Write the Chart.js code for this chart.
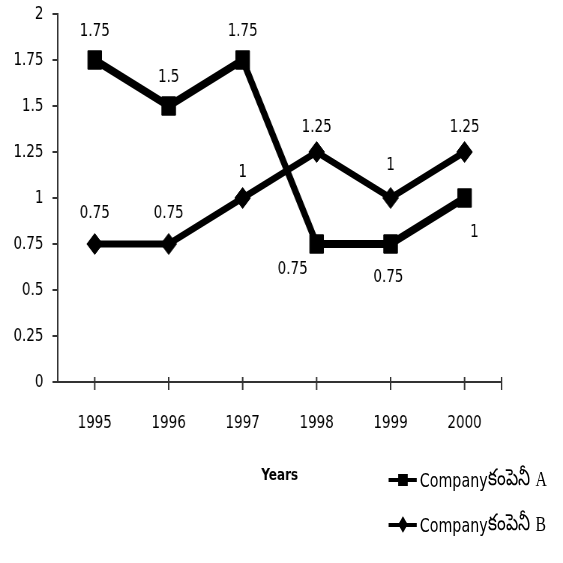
<!DOCTYPE html>
<html>
<head>
<meta charset="utf-8">
<script src="https://cdn.jsdelivr.net/npm/chart.js@4.4.1/dist/chart.umd.min.js"></script>
<style>
  html, body { margin: 0; padding: 0; background: #fff; overflow: hidden; }
  /* the reference is squeezed sideways, so draw wide and squeeze */
  #wrap { position: relative; width: 751px; height: 563px; transform: scaleX(0.7497); transform-origin: 0 0; }
  #legend { position: absolute; left: 518px; top: 457px; color: #000;
            font-family: 'DejaVu Sans', sans-serif; }
  .row { height: 45px; display: flex; align-items: center; white-space: nowrap; }
  .key { position: relative; width: 38px; height: 16px; flex: none; margin-right: 4px; }
  .key .ln { position: absolute; left: 0; right: 0; top: 6px; height: 4px; background: #000; }
  .key .sq { position: absolute; left: 13px; top: 2px; width: 13px; height: 12px; background: #000; }
  .key .dm { position: absolute; left: 15px; top: 3px; width: 9px; height: 9px; background: #000; transform: scaleY(1.3) rotate(45deg); }
  .txt { font-size: 19px; }
  .te { font-size: 23px; }
  .ab { font-family: 'Liberation Serif', serif; font-size: 21px; margin-left: 8px; }
</style>
</head>
<body>
<div id="wrap">
  <canvas id="lineChart" width="751" height="563"></canvas>
  <div id="legend"></div>
</div>
<script>
// datos
const years = ['1995', '1996', '1997', '1998', '1999', '2000'];
const companyA = [1.75, 1.5, 1.75, 0.75, 0.75, 1];
const companyB = [0.75, 0.75, 1, 1.25, 1, 1.25];
const yTicks = [0, 0.25, 0.5, 0.75, 1, 1.25, 1.5, 1.75, 2];
const seriesNames = ['Company', 'Company'];
const seriesTelugu = ['కంపెనీ', 'కంపెనీ'];
const seriesLetters = ['A', 'B'];

const baseFont = "'DejaVu Sans', sans-serif";

// where each value label sits relative to its point
const labelSpots = [
    [[0, -29], [0, -29], [0, -29], [-32, 25], [-3, 33], [13, 34]],
    [[0, -31], [0, -31], [0, -26], [0, -25], [0, -33], [0, -25]]
];

// value labels on the points
const valueLabels = {
    id: 'valueLabels',
    afterDatasetsDraw(chart) {
        const ctx = chart.ctx;
        ctx.save();
        ctx.font = '18px ' + baseFont;
        ctx.fillStyle = '#000';
        ctx.textAlign = 'center';
        ctx.textBaseline = 'middle';
        chart.data.datasets.forEach((ds, di) => {
            chart.getDatasetMeta(di).data.forEach((pt, i) => {
                const off = labelSpots[di][i];
                ctx.fillText(String(ds.data[i]), pt.x + off[0], pt.y + off[1]);
            });
        });
        ctx.restore();
    }
};

// x ticks that cross the axis, plus one at the end
const crossTicks = {
    id: 'crossTicks',
    afterDraw(chart) {
        const x = chart.scales.x;
        const ctx = chart.ctx;
        const y = x.top;
        ctx.save();
        ctx.strokeStyle = '#333';
        ctx.lineWidth = 2;
        ctx.beginPath();
        const spots = years.map((_, i) => x.getPixelForValue(i));
        spots.push(x.right);
        spots.forEach(px => {
            ctx.moveTo(px, y - 5);
            ctx.lineTo(px, y + 8);
        });
        ctx.stroke();
        ctx.restore();
    }
};

const ctx = document.getElementById('lineChart').getContext('2d');
new Chart(ctx, {
    type: 'line',
    data: {
        labels: years,
        datasets: [
            { label: seriesNames[0] + seriesTelugu[0] + ' ' + seriesLetters[0], data: companyA,
              borderColor: '#000', backgroundColor: '#000', borderWidth: 8,
              pointStyle: 'rect', pointRadius: 13, pointBorderWidth: 1, tension: 0 },
            { label: seriesNames[1] + seriesTelugu[1] + ' ' + seriesLetters[1], data: companyB,
              borderColor: '#000', backgroundColor: '#000', borderWidth: 7,
              pointStyle: 'rectRot', pointRadius: 10.5, pointBorderWidth: 1, tension: 0 }
        ]
    },
    options: {
        responsive: false,
        animation: false,
        layout: { padding: { top: 13, right: 82, bottom: 78, left: 0 } },
        plugins: { legend: { display: false }, tooltip: { enabled: false } },
        scales: {
            y: {
                min: 0, max: 2,
                afterBuildTicks(scale) { scale.ticks = yTicks.map(v => ({ value: v })); },
                afterFit(scale) { scale.width = 77; scale.paddingTop = 0; },
                grid: { drawOnChartArea: false, drawTicks: true, tickLength: 7, color: '#333', lineWidth: 2 },
                border: { color: '#333', width: 2 },
                ticks: { color: '#000', padding: 12, font: { size: 18, family: baseFont },
                         callback: v => String(v) }
            },
            x: {
                offset: true,
                afterFit(scale) { scale.height = 103; },
                grid: { drawOnChartArea: false, drawTicks: false },
                border: { color: '#333', width: 2 },
                ticks: { color: '#000', padding: 31, maxRotation: 0, font: { size: 18, family: baseFont } },
                title: { display: true, text: 'Years', color: '#000', padding: 0,
                         font: { size: 16, weight: 'bold', family: baseFont } }
            }
        }
    },
    plugins: [valueLabels, crossTicks]
});

// legend in html, one row per company
const legend = document.getElementById('legend');
['sq', 'dm'].forEach((mark, i) => {
    const row = document.createElement('div');
    row.className = 'row';
    row.innerHTML = '<span class="key"><span class="ln"></span><span class="' + mark + '"></span></span>' +
        '<span class="txt">' + seriesNames[i] + '</span>' +
        '<span class="te">' + seriesTelugu[i] + '</span>' +
        '<span class="ab">' + seriesLetters[i] + '</span>';
    legend.appendChild(row);
});
</script>
</body>
</html>
